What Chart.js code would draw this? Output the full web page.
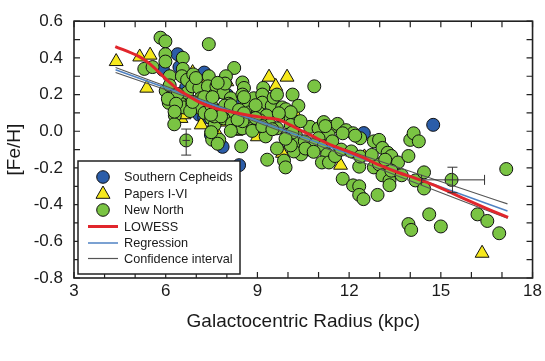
<!DOCTYPE html>
<html><head><meta charset="utf-8">
<script src="https://cdn.jsdelivr.net/npm/chart.js@4.4.1/dist/chart.umd.min.js"></script>
<style>html,body{margin:0;padding:0;background:#fff;}</style>
</head><body>
<canvas id="c" width="545" height="361"></canvas>
<script>
// ---------- data ----------
const southR  = [5.91, 6.39, 6.45, 6.67, 7.26, 7.10, 7.26, 7.48, 7.86, 8.40, 12.48, 14.75, 8.00, 8.20, 6.80];
const southFe = [0.335, 0.42, 0.35, 0.24, 0.32, 0.09, 0.075, -0.02, -0.085, -0.185, -0.01, 0.035, 0.20, 0.17, 0.12];

const papersR  = [4.38, 5.15, 5.49, 5.38, 6.88, 9.38, 9.97, 9.60, 7.16, 7.64, 9.00, 9.82, 11.72, 16.35, 6.50, 6.60, 8.00, 10.25, 7.50, 7.90, 7.30, 6.70, 8.30, 12.50];
const papersFe = [0.38, 0.405, 0.415, 0.235, 0.32, 0.295, 0.295, 0.245, 0.035, 0.0, -0.03, -0.12, -0.185, -0.665, 0.07, 0.09, 0.27, 0.09, 0.02, 0.05, 0.26, 0.17, 0.0, -0.14];

const northR = [5.83,5.99,7.41,5.99,5.99,6.56,5.30,5.57,6.56,6.13,6.53,6.70,6.90,7.41,8.24,7.97,6.00,6.13,6.25,6.10,
  6.47,6.70,6.87,7.10,7.15,7.38,7.60,7.66,7.89,7.94,8.13,8.06,6.59,6.87,7.06,6.30,6.80,7.27,7.49,7.72,
  7.94,8.23,6.28,7.49,7.60,7.89,8.17,8.37,7.52,7.75,8.47,6.67,7.49,
  8.51,8.56,8.51,8.88,9.19,9.16,9.16,9.47,9.53,9.64,10.15,10.34,9.81,9.93,8.62,8.76,9.02,9.30,8.74,9.08,
  9.41,9.75,10.09,10.09,8.51,8.85,9.27,9.64,10.09,10.00,10.27,10.20,10.55,10.70,10.43,10.19,9.64,9.87,9.92,9.32,
  10.86,10.72,11.00,11.17,11.45,11.62,11.90,12.13,11.79,11.33,11.00,10.88,11.17,11.45,11.28,11.11,11.34,11.54,11.74,12.07,
  12.36,11.79,12.13,12.33,12.33,12.47,12.33,12.81,12.98,13.09,13.26,12.81,12.98,13.09,13.32,13.32,13.38,13.60,13.38,12.93,
  13.72,13.94,14.00,14.11,14.28,14.17,14.45,14.45,14.62,13.94,14.03,15.00,15.35,16.20,16.52,16.91,17.14,
  6.99,7.70,7.26,7.53,6.88,8.13,8.40,7.59,7.81,8.56,8.94,8.56,9.70,8.94,6.39,6.07,6.34,6.29,7.48,8.51,
  8.83,9.16,9.49,7.70,8.35,8.13,11.22,12.20,13.18,12.36,12.74,10.41,10.14,10.57,10.84,10.09,9.92];
const northFe = [0.51,0.49,0.475,0.42,0.38,0.40,0.34,0.35,0.34,0.30,0.30,0.28,0.31,0.30,0.345,0.30,0.22,0.25,0.19,0.155,
  0.155,0.21,0.245,0.235,0.18,0.245,0.20,0.245,0.21,0.26,0.18,0.15,0.13,0.145,0.13,0.086,0.11,0.10,0.14,0.11,
  0.14,0.086,0.038,0.07,0.035,0.07,0.043,0.016,-0.046,-0.046,-0.082,-0.05,-0.005,
  0.266,0.236,0.20,0.18,0.236,0.20,0.156,0.139,0.183,0.20,0.20,0.139,0.13,0.12,0.139,0.104,0.104,0.086,0.05,0.06,
  0.034,0.086,0.07,0.104,0.016,0.016,-0.028,0.016,0.034,-0.019,-0.028,-0.064,-0.055,-0.10,-0.126,-0.11,-0.094,-0.16,-0.197,-0.155,
  0.245,0.024,0.015,0.05,0.024,0.04,0.006,-0.011,-0.011,-0.02,-0.038,-0.073,-0.082,-0.055,-0.126,-0.17,-0.17,-0.135,-0.10,-0.11,
  -0.038,-0.259,-0.295,-0.30,-0.347,-0.37,-0.193,-0.055,-0.047,-0.091,-0.117,-0.197,-0.18,-0.24,-0.268,-0.294,-0.135,-0.17,-0.215,-0.347,
  -0.24,-0.135,-0.047,-0.011,-0.055,-0.268,-0.224,-0.312,-0.453,-0.506,-0.538,-0.519,-0.265,-0.453,-0.489,-0.556,-0.206,
  0.29,0.264,0.186,0.186,0.16,0.142,0.116,0.081,0.081,0.186,0.142,0.098,0.098,0.072,0.203,0.177,0.15,0.107,0.09,0.055,
  0.002,0.028,0.011,-0.068,0.063,0.002,0.028,-0.024,-0.155,-0.138,-0.129,0.055,-0.007,-0.094,-0.112,-0.077,-0.041];

const lowessR  = [4.35,5.1,5.5,5.85,6.1,6.4,6.6,7.1,7.6,8.2,8.8,9.3,9.7,10.0,10.35,10.9,11.44,12.0,12.52,13.0,13.6,14.2,14.8,15.4,16.0,16.6,17.2];
const lowessFe = [0.462,0.41,0.365,0.31,0.27,0.228,0.207,0.159,0.126,0.104,0.085,0.073,0.063,0.04,0.011,-0.035,-0.077,-0.112,-0.148,-0.185,-0.225,-0.258,-0.295,-0.34,-0.385,-0.428,-0.47];

const regR  = [4.36, 17.18];
const regFe = [0.335, -0.435];
const ciR       = [4.36, 8.5, 17.18];
const ciUpperFe = [0.348, 0.093, -0.396];
const ciLowerFe = [0.320, 0.079, -0.474];

// error bars
const errR    = [6.67, 15.38];
const errFe   = [-0.05, -0.265];
const errRLo  = [6.55, 14.37];
const errRHi  = [6.79, 16.43];
const errFeLo = [-0.13, -0.335];
const errFeHi = [0.012, -0.196];

const xTicks = [3, 6, 9, 12, 15, 18];
const yTicks = [-0.8, -0.6, -0.4, -0.2, 0.0, 0.2, 0.4, 0.6];
const legendLabels = ['Southern Cepheids', 'Papers I-VI', 'New North', 'LOWESS', 'Regression', 'Confidence interval'];

// ---------- styling ----------
const FONT = '"Liberation Sans", Arial, Helvetica, sans-serif';
const GREEN = '#7ac443', BLUE = '#2b5da9', YELLOW = '#f6e81c';
const RED = '#e1262c', REGBLUE = '#4f82c3', GREY = '#555555';

const pts = (xs, ys) => xs.map((x, i) => ({x: x, y: ys[i]}));

const framePlugin = {
  id: 'framePlugin',
  afterDatasetsDraw(chart) {
    const {ctx, scales: {x, y}} = chart;
    ctx.save();
    ctx.strokeStyle = '#333';
    ctx.lineWidth = 1;
    for (let i = 0; i < errR.length; i++) {
      const px = x.getPixelForValue(errR[i]), py = y.getPixelForValue(errFe[i]);
      const x0 = x.getPixelForValue(errRLo[i]), x1 = x.getPixelForValue(errRHi[i]);
      const y0 = y.getPixelForValue(errFeLo[i]), y1 = y.getPixelForValue(errFeHi[i]);
      ctx.beginPath();
      ctx.moveTo(px, y0); ctx.lineTo(px, y1);
      ctx.moveTo(px - 5, y0); ctx.lineTo(px + 5, y0);
      ctx.moveTo(px - 5, y1); ctx.lineTo(px + 5, y1);
      ctx.moveTo(x0, py); ctx.lineTo(x1, py);
      if (x1 - x0 > 20) {
        ctx.moveTo(x0, py - 5); ctx.lineTo(x0, py + 5);
        ctx.moveTo(x1, py - 5); ctx.lineTo(x1, py + 5);
      }
      ctx.stroke();
    }
    ctx.restore();
  },
  afterDraw(chart) {
    const {ctx, chartArea: a, scales: {x, y}} = chart;
    ctx.save();
    ctx.strokeStyle = '#222';
    ctx.lineWidth = 1.6;
    ctx.strokeRect(a.left, a.top, a.right - a.left, a.bottom - a.top);
    ctx.lineWidth = 1.2;
    ctx.beginPath();
    const tl = 6;
    for (let v = 3; v <= 18; v++) {
      const px = x.getPixelForValue(v);
      ctx.moveTo(px, a.bottom); ctx.lineTo(px, a.bottom - tl);
      ctx.moveTo(px, a.top); ctx.lineTo(px, a.top + tl);
    }
    for (let k = -8; k <= 6; k++) {
      const py = y.getPixelForValue(k / 10);
      ctx.moveTo(a.left, py); ctx.lineTo(a.left + tl, py);
      ctx.moveTo(a.right, py); ctx.lineTo(a.right - tl, py);
    }
    ctx.stroke();

    // legend
    const L = 78, T = 161, R = 240, B = 274;
    ctx.fillStyle = '#fff';
    ctx.fillRect(L, T, R - L, B - T);
    ctx.strokeStyle = '#222';
    ctx.lineWidth = 1.5;
    ctx.strokeRect(L, T, R - L, B - T);
    const rows = [177, 193.5, 210, 226.5, 243, 258.5];
    const mx = 103, tx = 124;
    ctx.lineWidth = 1;
    ctx.strokeStyle = '#111';
    ctx.fillStyle = BLUE;
    ctx.beginPath(); ctx.arc(mx, rows[0], 6.3, 0, Math.PI * 2); ctx.fill(); ctx.stroke();
    ctx.fillStyle = YELLOW;
    ctx.beginPath();
    ctx.moveTo(mx, rows[1] - 7.5); ctx.lineTo(mx + 7, rows[1] + 4.8); ctx.lineTo(mx - 7, rows[1] + 4.8); ctx.closePath();
    ctx.fill(); ctx.stroke();
    ctx.fillStyle = GREEN;
    ctx.beginPath(); ctx.arc(mx, rows[2], 6.3, 0, Math.PI * 2); ctx.fill(); ctx.stroke();
    const lineRow = (r, col, w) => {
      ctx.strokeStyle = col; ctx.lineWidth = w;
      ctx.beginPath(); ctx.moveTo(88, r); ctx.lineTo(118, r); ctx.stroke();
    };
    lineRow(rows[3], RED, 3);
    lineRow(rows[4], REGBLUE, 1.5);
    lineRow(rows[5], GREY, 1.2);
    ctx.fillStyle = '#1a1a1a';
    ctx.font = '12.7px ' + FONT;
    ctx.textBaseline = 'middle';
    ctx.textAlign = 'left';
    legendLabels.forEach((t, i) => ctx.fillText(t, tx, rows[i] + 0.5));
    ctx.restore();
  }
};

new Chart(document.getElementById('c'), {
  type: 'scatter',
  data: {
    datasets: [
      {label: legendLabels[3], type: 'line', data: pts(lowessR, lowessFe), borderColor: RED, borderWidth: 3, pointRadius: 0, tension: 0.3, fill: false, order: 0},
      {label: legendLabels[4], type: 'line', data: pts(regR, regFe), borderColor: REGBLUE, borderWidth: 1.5, pointRadius: 0, fill: false, order: 1},
      {label: legendLabels[5], type: 'line', data: pts(ciR, ciUpperFe), borderColor: GREY, borderWidth: 1.1, pointRadius: 0, tension: 0.4, fill: false, order: 2},
      {label: legendLabels[5] + ' lower', type: 'line', data: pts(ciR, ciLowerFe), borderColor: GREY, borderWidth: 1.1, pointRadius: 0, tension: 0.4, fill: false, order: 2},
      {label: legendLabels[2], data: pts(northR, northFe), backgroundColor: GREEN, borderColor: '#111', borderWidth: 1, pointRadius: 6.5, pointStyle: 'circle', order: 3},
      {label: legendLabels[1], data: pts(papersR, papersFe), backgroundColor: YELLOW, borderColor: '#111', borderWidth: 1, pointRadius: 8, pointStyle: 'triangle', order: 4},
      {label: legendLabels[0], data: pts(southR, southFe), backgroundColor: BLUE, borderColor: '#111', borderWidth: 1, pointRadius: 6.5, pointStyle: 'circle', order: 5}
    ]
  },
  options: {
    responsive: false,
    animation: false,
    devicePixelRatio: 1,
    layout: {padding: {top: 11, right: 10, left: 0, bottom: 0}},
    plugins: {legend: {display: false}, tooltip: {enabled: false}},
    scales: {
      x: {
        type: 'linear', min: 3, max: 18,
        afterBuildTicks: s => { s.ticks = xTicks.map(v => ({value: v})); },
        afterFit: s => { s.height = 83; },
        grid: {display: false, drawTicks: false},
        border: {display: false},
        ticks: {color: '#1a1a1a', font: {family: FONT, size: 17}, padding: 3, maxRotation: 0,
                callback: v => String(v)},
        title: {display: true, text: 'Galactocentric Radius (kpc)', color: '#1a1a1a', font: {family: FONT, size: 19}, padding: {top: 0, bottom: 28}}
      },
      y: {
        type: 'linear', min: -0.8, max: 0.6,
        afterBuildTicks: s => { s.ticks = yTicks.map(v => ({value: v})); },
        afterFit: s => { s.width = 74; },
        grid: {display: false, drawTicks: false},
        border: {display: false},
        ticks: {color: '#1a1a1a', font: {family: FONT, size: 17}, padding: 11,
                callback: v => (Math.round(v * 10) / 10).toFixed(1).replace('-0.0', '0.0')},
        title: {display: true, text: '[Fe/H]', color: '#1a1a1a', font: {family: FONT, size: 19}, padding: {top: 3, bottom: 0}}
      }
    }
  },
  plugins: [framePlugin]
});
</script>
</body></html>
